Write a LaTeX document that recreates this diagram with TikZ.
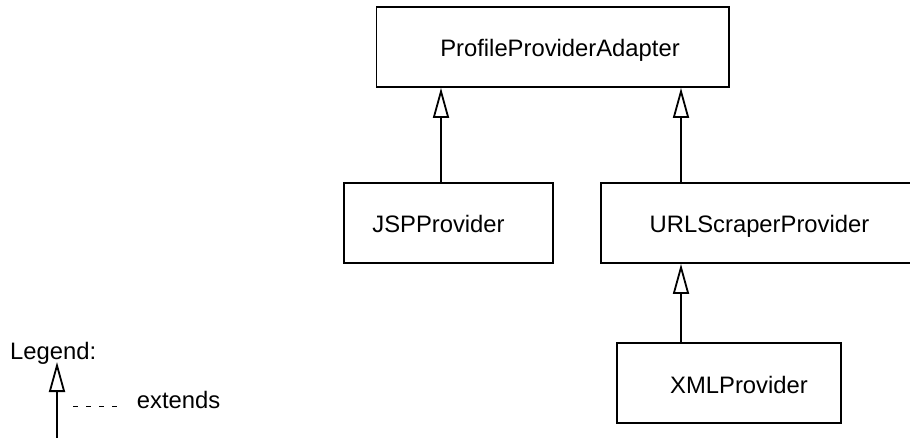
\documentclass[tikz,border=0pt]{standalone}
\usepackage{fontspec}
\setmainfont{Liberation Sans}
\usetikzlibrary{arrows.meta}
\tikzset{
  box/.style={draw=black, line width=1.8pt, rectangle, inner sep=0pt, minimum height=80pt,
    text height=20pt, text depth=0pt, font=\fontsize{23.8}{28}\selectfont},
  ext/.style={draw=black, line width=1.8pt, -{Triangle[open, length=30pt, width=16pt, line width=1.8pt]}},
  txt/.style={inner sep=0pt, font=\fontsize{23.8}{28}\selectfont},
  legdash/.style={draw=black, line width=1.5pt, dash pattern=on 4.5pt off 8.5pt}
}
\begin{document}
\begin{tikzpicture}[x=1pt, y=-1pt]
\useasboundingbox (0,0) rectangle (910,438);
\node[box, minimum width=352.5pt] (ppa) at (552.75,47) {\hspace*{14.5pt}ProfileProviderAdapter};
\node[box, minimum width=209pt] (jsp) at (448.5,223) {JSPProvider\hspace*{20pt}};
\node[box, minimum width=317pt] (url) at (759.5,223) {URLScraperProvider};
\node[box, minimum width=224pt] (xml) at (729,383) {\hspace*{20pt}XMLProvider};
\draw[ext] (jsp.north -| 441,0) -- (ppa.south -| 441,0);
\draw[ext] (url.north -| 681,0) -- (ppa.south -| 681,0);
\draw[ext] (xml.north -| 681,0) -- (url.south -| 681,0);
% legend
\node[txt, anchor=base west] (legend) at (10,359) {Legend:};
\coordinate (lgtip) at (57,362);
\coordinate (lgtail) at (57,445);
\draw[ext] (lgtail) -- (lgtip);
\coordinate (d1) at (73,406.7);
\coordinate (d2) at (118,406.7);
\draw[legdash] (d1) -- (d2);
\node[txt, anchor=base west] (extends) at (136.7,408) {extends};
\end{tikzpicture}
\end{document}
